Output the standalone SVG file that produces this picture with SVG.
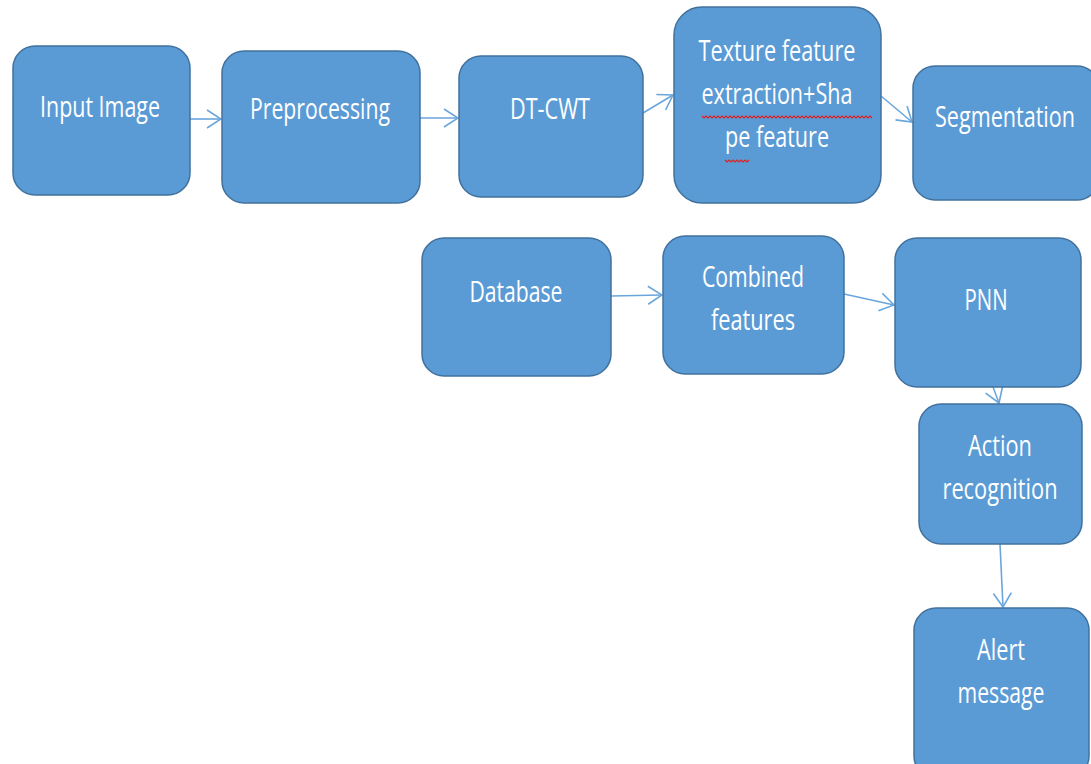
<svg xmlns="http://www.w3.org/2000/svg" width="1091" height="764" viewBox="0 0 1091 764">
<style>
.box{fill:#5B9BD5;stroke:#41719C;stroke-width:1.5}
.t{fill:#FFFFFF;font-family:"Open Sans","Liberation Sans",sans-serif;font-size:29px;text-anchor:middle}
.c{fill:none;stroke:#6AA6DC;stroke-width:1.6;marker-end:url(#ah)}
.sp{fill:none;stroke:#E02020;stroke-width:1.2}
</style>
<defs>
<marker id="ah" viewBox="0 0 16 20" refX="15" refY="10" markerWidth="16" markerHeight="20" markerUnits="userSpaceOnUse" orient="auto">
<path d="M1 1 L15 10 L1 19" fill="none" stroke="#6AA6DC" stroke-width="1.6"/>
</marker>
</defs>
<rect width="1091" height="764" fill="#FFFFFF"/>
<g id="connectors">
<line class="c" x1="190" y1="119" x2="221" y2="119"/>
<line class="c" x1="420" y1="118" x2="458" y2="118"/>
<line class="c" x1="643" y1="113" x2="673" y2="95"/>
<line class="c" x1="881" y1="96" x2="912" y2="122"/>
<line class="c" x1="611" y1="296" x2="662" y2="295"/>
<line class="c" x1="844" y1="294" x2="894" y2="305"/>
<line class="c" x1="993" y1="387" x2="999" y2="403"/>
<line class="c" x1="1000" y1="544" x2="1003" y2="607"/>
</g>
<g id="n-input">
<rect class="box" x="13" y="46" width="177" height="149" rx="22"/>
<text class="t" x="100" y="117" textLength="120" lengthAdjust="spacingAndGlyphs">Input Image</text>
</g>
<g id="n-preprocessing">
<rect class="box" x="222" y="51" width="198" height="152" rx="22"/>
<text class="t" x="320" y="119" textLength="140" lengthAdjust="spacingAndGlyphs">Preprocessing</text>
</g>
<g id="n-dtcwt">
<rect class="box" x="459" y="56" width="184" height="141" rx="22"/>
<text class="t" x="550" y="119" textLength="80" lengthAdjust="spacingAndGlyphs">DT-CWT</text>
</g>
<g id="n-texture">
<rect class="box" x="674" y="7" width="207" height="196" rx="28"/>
<text class="t" x="777" y="61" textLength="157" lengthAdjust="spacingAndGlyphs">Texture feature</text>
<text class="t" x="777" y="104" textLength="151" lengthAdjust="spacingAndGlyphs">extraction+Sha</text>
<text class="t" x="777" y="147" textLength="104" lengthAdjust="spacingAndGlyphs">pe feature</text>
<path class="sp" d="M702 116 l2 2 l2 -2 l2 2 l2 -2 l2 2 l2 -2 l2 2 l2 -2 l2 2 l2 -2 l2 2 l2 -2 l2 2 l2 -2 l2 2 l2 -2 l2 2 l2 -2 l2 2 l2 -2 l2 2 l2 -2 l2 2 l2 -2 l2 2 l2 -2 l2 2 l2 -2 l2 2 l2 -2 l2 2 l2 -2 l2 2 l2 -2 l2 2 l2 -2 l2 2 l2 -2 l2 2 l2 -2 l2 2 l2 -2 l2 2 l2 -2 l2 2 l2 -2 l2 2 l2 -2 l2 2 l2 -2 l2 2 l2 -2 l2 2 l2 -2 l2 2 l2 -2 l2 2 l2 -2 l2 2 l2 -2 l2 2 l2 -2 l2 2 l2 -2 l2 2 l2 -2 l2 2 l2 -2 l2 2 l2 -2 l2 2 l2 -2 l2 2 l2 -2 l2 2 l2 -2 l2 2 l2 -2 l2 2 l2 -2 l2 2 l2 -2 l2 2 l2 -2 l2 2"/>
<path class="sp" d="M725 160 l2 2 l2 -2 l2 2 l2 -2 l2 2 l2 -2 l2 2 l2 -2 l2 2 l2 -2 l2 2 l2 -2"/>
</g>
<g id="n-segmentation">
<rect class="box" x="913" y="66" width="186" height="134" rx="22"/>
<text class="t" x="1005" y="127" textLength="140" lengthAdjust="spacingAndGlyphs">Segmentation</text>
</g>
<g id="n-database">
<rect class="box" x="422" y="238" width="189" height="138" rx="22"/>
<text class="t" x="516" y="302" textLength="93" lengthAdjust="spacingAndGlyphs">Database</text>
</g>
<g id="n-combined">
<rect class="box" x="663" y="236" width="181" height="138" rx="22"/>
<text class="t" x="753" y="287" textLength="102" lengthAdjust="spacingAndGlyphs">Combined</text>
<text class="t" x="753" y="330" textLength="84" lengthAdjust="spacingAndGlyphs">features</text>
</g>
<g id="n-pnn">
<rect class="box" x="895" y="238" width="186" height="149" rx="22"/>
<text class="t" x="986" y="310" textLength="43" lengthAdjust="spacingAndGlyphs">PNN</text>
</g>
<g id="n-action">
<rect class="box" x="919" y="404" width="163" height="140" rx="22"/>
<text class="t" x="1000" y="456" textLength="64" lengthAdjust="spacingAndGlyphs">Action</text>
<text class="t" x="1000" y="499" textLength="115" lengthAdjust="spacingAndGlyphs">recognition</text>
</g>
<g id="n-alert">
<rect class="box" x="914" y="608" width="175" height="170" rx="22"/>
<text class="t" x="1001" y="660" textLength="48" lengthAdjust="spacingAndGlyphs">Alert</text>
<text class="t" x="1001" y="703" textLength="87" lengthAdjust="spacingAndGlyphs">message</text>
</g>
</svg>
